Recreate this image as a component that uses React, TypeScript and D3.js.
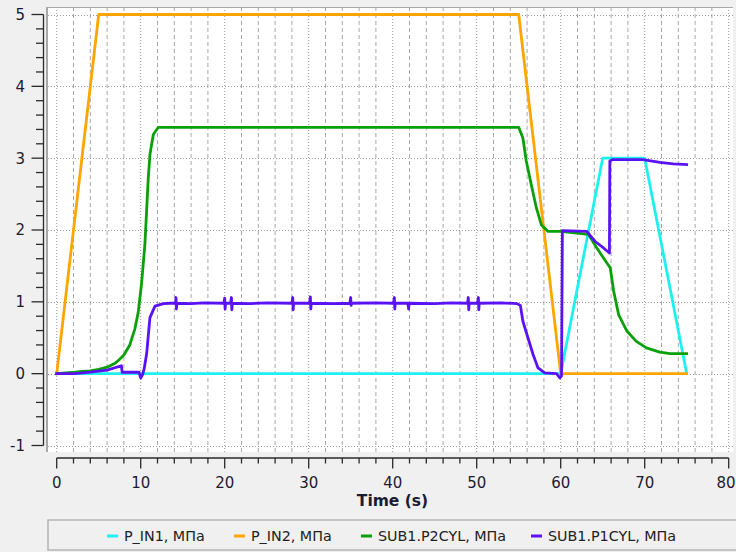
import React from "react";
import * as d3 from "d3";

const W = 736;
const H = 552;

const xMajorTicks = [0, 10, 20, 30, 40, 50, 60, 70, 80];
const yMajorTicks = [-1, 0, 1, 2, 3, 4, 5];
const xLabel = "Time (s)";

const seriesNames = ["P_IN1, МПа", "P_IN2, МПа", "SUB1.P2CYL, МПа", "SUB1.P1CYL, МПа"];
const seriesColors = ["#1ef0f0", "#ffa500", "#0aa00a", "#5a12f5"];

const pIn1T = [0, 60, 65, 70, 75];
const pIn1V = [0, 0, 3, 3, 0];

const pIn2T = [0, 5, 55, 60, 75];
const pIn2V = [0, 5, 5, 0, 0];

const p2cylT = [0, 2.2, 3, 4, 5, 6, 7, 7.5, 8, 8.7, 9.3, 9.7, 10.1, 10.5, 10.7, 10.9, 11.1, 11.5, 12.1,
  55, 55.5, 55.9, 56.5, 57.1, 57.7, 58.5, 60, 63.3, 64.3, 65.5, 65.9, 66.3, 66.9, 67.9, 69, 70.2, 71.8, 73, 75];
const p2cylV = [0, 0.02, 0.03, 0.04, 0.06, 0.09, 0.15, 0.2, 0.26, 0.4, 0.62, 0.85, 1.25, 1.8, 2.26, 2.72, 3.05, 3.33, 3.43,
  3.43, 3.28, 2.96, 2.63, 2.31, 2.07, 1.98, 1.98, 1.94, 1.75, 1.54, 1.47, 1.15, 0.82, 0.59, 0.45, 0.36, 0.3, 0.28, 0.28];

const p1cylT = [0, 2.2, 4, 6, 7.7, 7.8, 9.8, 10.0, 10.2, 10.4, 10.7, 11.1, 11.7, 12.7, 13.5,
  14.15, 14.2, 14.25, 14.3, 16, 17.5, 19.9, 20.0, 20.05, 20.1, 20.7, 20.8, 20.85, 20.9,
  23, 25, 28.0, 28.1, 28.15, 28.2, 30.1, 30.2, 30.25, 30.3, 33, 34.9, 35.0, 35.05, 35.1,
  38, 40.1, 40.2, 40.25, 40.3, 41.8, 41.9, 41.95, 45, 47, 48.9, 49.0, 49.05, 49.1, 50.1, 50.2, 50.25, 50.3,
  53, 54.8, 55.2, 55.5, 56.1, 56.7, 57.3, 58.1, 59.5, 59.9, 60.1, 60.2, 63.1, 64.1, 65.1, 65.8, 65.85, 66.2,
  69.8, 71.8, 73.4, 75];
const p1cylV = [0, 0.0, 0.02, 0.05, 0.11, 0.02, 0.02, -0.06, -0.02, 0.06, 0.27, 0.78, 0.94, 0.975, 0.98,
  0.98, 1.06, 0.9, 0.98, 0.975, 0.985, 0.98, 1.05, 0.9, 0.98, 0.98, 1.06, 0.89, 0.98,
  0.975, 0.985, 0.98, 1.06, 0.89, 0.98, 0.98, 1.07, 0.9, 0.98, 0.975, 0.98, 1.06, 0.95, 0.98,
  0.985, 0.98, 1.06, 0.9, 0.98, 0.98, 0.9, 0.98, 0.975, 0.985, 0.98, 1.06, 0.89, 0.98, 0.98, 1.06, 0.89, 0.98,
  0.985, 0.975, 0.95, 0.73, 0.5, 0.27, 0.08, 0.01, 0.0, -0.06, -0.03, 1.99, 1.98, 1.84, 1.75, 1.68, 2.96, 2.98,
  2.98, 2.94, 2.92, 2.91];

const seriesT = [pIn1T, pIn2T, p2cylT, p1cylT];
const seriesV = [pIn1V, pIn2V, p2cylV, p1cylV];

// layout
const plotL = 48, plotT = 7, plotR = 733, plotB = 452;
const legendX = [107, 234, 361, 531];

export default function App() {
  const x = d3.scaleLinear().domain([0, 80]).range([56.7, 728.7]);
  const y = d3.scaleLinear().domain([-1, 5]).range([445.5, 14.5]);
  const xMinor = d3.range(0, 80.001, 2).filter((v) => Math.abs(v % 10) > 1e-6);
  const yMinor = d3.range(-1, 5.0001, 0.2).filter((v) => Math.abs(v - Math.round(v)) > 1e-6);
  const line = d3.line<[number, number]>().x((d) => x(d[0])).y((d) => y(d[1]));
  const font = "'DejaVu Sans', Verdana, sans-serif";
  const axisColor = "#2a2a2a";

  return (
    <svg width={W} height={H} style={{ position: "absolute", left: 0, top: 0, display: "block", background: "#f0f0f0" }}>
      <defs>
        <clipPath id="plotclip">
          <rect x={plotL} y={plotT} width={plotR - plotL} height={plotB - plotT} />
        </clipPath>
      </defs>
      <rect x={0} y={0} width={W} height={H} fill="#f0f0f0" />
      <rect x={plotL} y={plotT} width={plotR - plotL} height={plotB - plotT} fill="#ffffff" />
      {/* grid */}
      <g clipPath="url(#plotclip)">
        {xMinor.map((v) => (
          <line key={"xm" + v} x1={x(v)} x2={x(v)} y1={plotT} y2={plotB} stroke="#a8a8a8" strokeWidth={1} strokeDasharray="4,3" />
        ))}
        {xMajorTicks.map((v) => (
          <line key={"xM" + v} x1={x(v)} x2={x(v)} y1={plotT} y2={plotB} stroke="#9a9a9a" strokeWidth={1} strokeDasharray="1,2" />
        ))}
        {yMajorTicks.map((v) => (
          <line key={"yM" + v} x1={plotL} x2={plotR} y1={Math.round(y(v)) + 0.5} y2={Math.round(y(v)) + 0.5} stroke="#9a9a9a" strokeWidth={1} strokeDasharray="1,2" />
        ))}
      </g>
      {/* plot border */}
      <line x1={plotL - 1} x2={plotL - 1} y1={plotT} y2={plotB} stroke="#a8a8a8" strokeWidth={2} />
      <line x1={plotL} x2={plotR} y1={plotT + 0.5} y2={plotT + 0.5} stroke="#a8a8a8" strokeWidth={1} />
      {/* series */}
      <g clipPath="url(#plotclip)">
        {seriesT.map((ts, i) => {
          const pts = ts.map((t, j) => [t, seriesV[i][j]] as [number, number]);
          return (
            <path key={"s" + i} d={line(pts) || ""} fill="none" stroke={seriesColors[i]} strokeWidth={2.8} strokeLinejoin="round" strokeLinecap="square" />
          );
        })}
      </g>
      {/* y axis */}
      <line x1={43.5} x2={43.5} y1={y(5)} y2={y(-1)} stroke={axisColor} strokeWidth={1.3} />
      {yMinor.map((v) => (
        <line key={"ytm" + v} x1={36} x2={43.5} y1={y(v)} y2={y(v)} stroke={axisColor} strokeWidth={1.3} />
      ))}
      {yMajorTicks.map((v) => (
        <g key={"ytM" + v}>
          <line x1={31.5} x2={43.5} y1={y(v)} y2={y(v)} stroke={axisColor} strokeWidth={1.3} />
          <text x={25} y={y(v)} dy="0.36em" textAnchor="end" fontFamily={font} fontSize={15} fill="#1c1c30">{v}</text>
        </g>
      ))}
      {/* x axis */}
      <line x1={x(0)} x2={x(80)} y1={458} y2={458} stroke={axisColor} strokeWidth={1.3} />
      {xMinor.map((v) => (
        <line key={"xtm" + v} x1={x(v)} x2={x(v)} y1={458} y2={463.5} stroke={axisColor} strokeWidth={1.3} />
      ))}
      {xMajorTicks.map((v, i) => (
        <g key={"xtM" + v}>
          <line x1={x(v)} x2={x(v)} y1={458} y2={468.5} stroke={axisColor} strokeWidth={1.3} />
          <text x={i === xMajorTicks.length - 1 ? W - 0.5 : x(v)} y={488} textAnchor={i === xMajorTicks.length - 1 ? "end" : "middle"} fontFamily={font} fontSize={15} fill="#1c1c30">{v}</text>
        </g>
      ))}
      <text x={392.5} y={506} textAnchor="middle" fontFamily={font} fontSize={15.5} fontWeight="bold" fill="#1c1c30">{xLabel}</text>
      {/* legend */}
      <rect x={plotL} y={520} width={W} height={30} fill="#f0f0f0" stroke="#b4b4b4" strokeWidth={1.5} />
      {seriesNames.map((n, i) => (
        <g key={"lg" + i}>
          <line x1={legendX[i]} x2={legendX[i] + 11} y1={536} y2={536} stroke={seriesColors[i]} strokeWidth={3} />
          <text x={legendX[i] + 17} y={540.5} fontFamily={font} fontSize={14.3} fill="#222">{n}</text>
        </g>
      ))}
    </svg>
  );
}
